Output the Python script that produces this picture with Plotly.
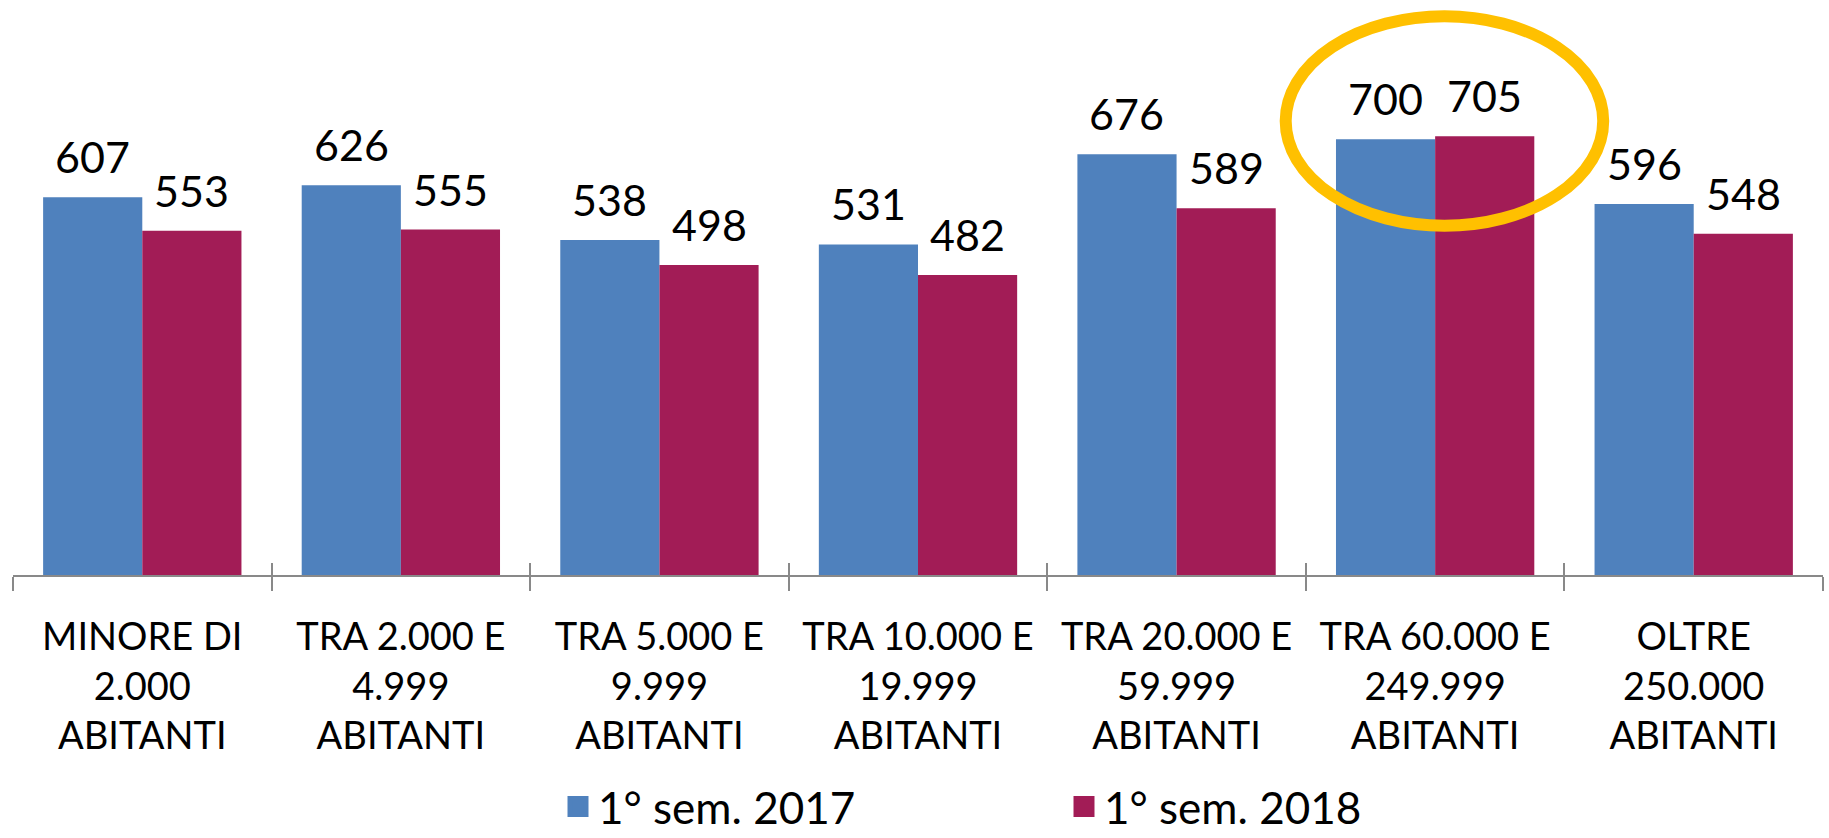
import plotly.graph_objects as go

# ---- data ----
categories = [
    "MINORE DI<br>2.000<br>ABITANTI",
    "TRA 2.000 E<br>4.999<br>ABITANTI",
    "TRA 5.000 E<br>9.999<br>ABITANTI",
    "TRA 10.000 E<br>19.999<br>ABITANTI",
    "TRA 20.000 E<br>59.999<br>ABITANTI",
    "TRA 60.000 E<br>249.999<br>ABITANTI",
    "OLTRE<br>250.000<br>ABITANTI",
]
values_2017 = [607, 626, 538, 531, 676, 700, 596]
values_2018 = [553, 555, 498, 482, 589, 705, 548]
series_names = ["1° sem. 2017", "1° sem. 2018"]
highlight_index = 5

# ---- style ----
W, H = 1829, 838
ML, MR, MT, MB = 13, 6, 0, 263
PLOT_H = H - MT - MB
PX_PER_UNIT = 0.6225
Y_MAX = PLOT_H / PX_PER_UNIT
BARGAP = 0.233
COLORS = ["#4F81BD", "#A21C56"]
AXIS_GRAY = "#898989"
FONT = "Lato, 'Open Sans', sans-serif"
LABEL_SIZE = 43
TICK_SIZE = 38
LEGEND_SIZE = 44

series = [values_2017, values_2018]

fig = go.Figure()
for name, vals, col in zip(series_names, series, COLORS):
    fig.add_trace(go.Bar(
        x=categories, y=vals, name=name, marker=dict(color=col, line=dict(width=0)),
        showlegend=False, hoverinfo="x+y",
    ))

# legend entries (larger square swatches)
for name, col in zip(series_names, COLORS):
    fig.add_trace(go.Scatter(
        x=[None], y=[None], name=name, mode="markers",
        marker=dict(symbol="square", size=16, color=col, line=dict(color=col, width=5)),
        showlegend=True, hoverinfo="skip",
    ))

# helper trace for the secondary axis carrying the inner half of the tick marks
fig.add_trace(go.Scatter(
    x=categories, y=[None] * len(categories), xaxis="x2", mode="markers",
    showlegend=False, hoverinfo="skip",
))

# data labels above each bar
bar_w = (1 - BARGAP) / len(series)
annotations = []
for s, vals in enumerate(series):
    off = (s - (len(series) - 1) / 2) * bar_w
    for i, v in enumerate(vals):
        annotations.append(dict(
            x=i + off, y=v, xref="x", yref="y", text=str(v), showarrow=False,
            xanchor="center", yanchor="bottom", yshift=13,
            font=dict(family=FONT, size=LABEL_SIZE, color="black"),
        ))

# highlight ellipse around the 60k-250k group
shapes = [dict(
    type="circle", xref="x", yref="y", layer="above",
    x0=highlight_index - 0.578, x1=highlight_index + 0.650,
    y0=561, y1=897.5,
    line=dict(color="#FFC000", width=12),
)]

fig.update_layout(
    width=W, height=H,
    margin=dict(l=ML, r=MR, t=MT, b=MB, autoexpand=False),
    paper_bgcolor="white", plot_bgcolor="white",
    barmode="group", bargap=BARGAP, bargroupgap=0,
    font=dict(family=FONT, color="black"),
    xaxis=dict(
        type="category", categoryarray=categories, range=[-0.5, len(categories) - 0.5],
        showline=True, linecolor=AXIS_GRAY, linewidth=1.5,
        ticks="outside", ticklen=14, tickwidth=1.5, tickcolor=AXIS_GRAY,
        tickson="boundaries", showgrid=False, zeroline=False,
        tickfont=dict(family=FONT, size=TICK_SIZE, color="black"),
        ticklabelstandoff=28,
    ),
    xaxis2=dict(
        type="category", categoryarray=categories, range=[-0.5, len(categories) - 0.5],
        overlaying="x", anchor="y", side="bottom", showline=False,
        ticks="inside", ticklen=12, tickwidth=1.5, tickcolor=AXIS_GRAY,
        tickson="boundaries", showticklabels=False, showgrid=False, zeroline=False,
    ),
    yaxis=dict(visible=False, range=[0, Y_MAX], showgrid=False, zeroline=False),
    legend=dict(
        orientation="h", x=(558 - ML) / (W - ML - MR), xanchor="left",
        y=(PLOT_H - (807 - MT)) / PLOT_H, yanchor="middle",
        font=dict(family=FONT, size=LEGEND_SIZE, color="black"),
        entrywidth=461, entrywidthmode="pixels", bgcolor="rgba(0,0,0,0)",
    ),
    annotations=annotations,
    shapes=shapes,
)

fig.write_html(
    "out.html",
    config={"displayModeBar": False},
    post_script="document.body.style.margin='0';",
)
